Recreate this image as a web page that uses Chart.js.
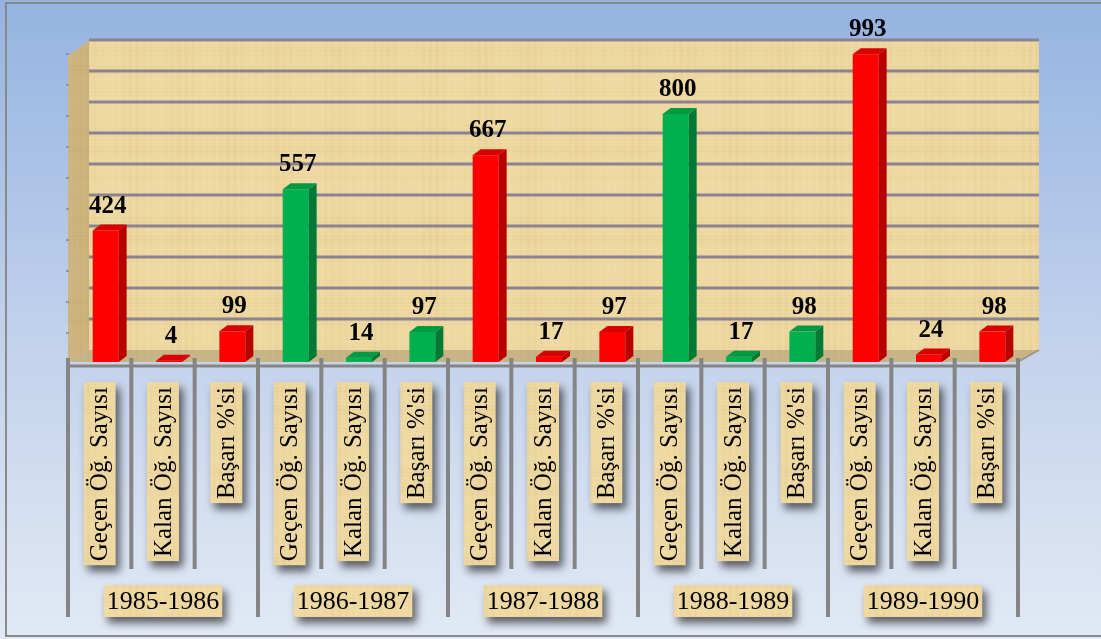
<!DOCTYPE html>
<html>
<head>
<meta charset="utf-8">
<script src="https://cdn.jsdelivr.net/npm/chart.js@4.4.0/dist/chart.umd.min.js"></script>
<style>
  html, body { margin: 0; padding: 0; background: #fff; }
</style>
</head>
<body>
<canvas id="chart" width="1101" height="639"></canvas>
<script>
var years = ['1985-1986', '1986-1987', '1987-1988', '1988-1989', '1989-1990'];
var measures = ['Geçen Öğ. Sayısı', 'Kalan Öğ. Sayısı', "Başarı %'si"];
var values = [424, 4, 99, 557, 14, 97, 667, 17, 97, 800, 17, 98, 993, 24, 98];
var yTicks = [0, 100, 200, 300, 400, 500, 600, 700, 800, 900, 1000];
var yearColors = ['red', 'green', 'red', 'green', 'red'];

var palette = {
  red:   { front: '#ff0000', side: '#b80000', top: '#d80000' },
  green: { front: '#00b04f', side: '#007a35', top: '#009a44' }
};

// build the 15 categories
var labels = [];
var colors = [];
years.forEach(function(yr, g) {
  measures.forEach(function(m) {
    labels.push(m);
    colors.push(yearColors[g]);
  });
});

var SHIFT = 6;      // bars sit a little right of their slot
var WALL_DX = 21, WALL_DY = 12;
var BAR_DX = 8, BAR_DY = 6;
var SERIF = '"Liberation Serif", "Times New Roman", serif';

// papyrus-like texture, deterministic
function makePaper() {
  var c = document.createElement('canvas');
  c.width = 300; c.height = 170;
  var p = c.getContext('2d');
  p.fillStyle = '#efd9a2';
  p.fillRect(0, 0, c.width, c.height);
  for (var y = 0; y < c.height; y++) {
    var a = 0.025 * Math.sin(y * 1.7) + 0.02 * Math.sin(y * 0.31 + 2) + 0.02 * Math.sin(y * 0.077);
    p.fillStyle = a > 0 ? 'rgba(255,248,220,' + a.toFixed(3) + ')' : 'rgba(170,130,60,' + (-a).toFixed(3) + ')';
    p.fillRect(0, y, c.width, 1);
  }
  for (var x = 0; x < c.width; x++) {
    var b = 0.025 * Math.sin(x * 0.9 + 1) + 0.02 * Math.sin(x * 0.13);
    p.fillStyle = b > 0 ? 'rgba(255,250,225,' + b.toFixed(3) + ')' : 'rgba(160,120,50,' + (-b).toFixed(3) + ')';
    p.fillRect(x, 0, 1, c.height);
  }
  return c;
}
var paper = makePaper();

var scenery = {
  id: 'scenery',
  beforeDraw: function(chart) {
    var ctx = chart.ctx;
    var W = chart.width, H = chart.height;
    var g = ctx.createLinearGradient(0, 0, 0, H);
    g.addColorStop(0, '#95b3e1');
    g.addColorStop(0.55, '#c3d3ec');
    g.addColorStop(1, '#e2e9f5');
    ctx.fillStyle = g;
    ctx.fillRect(0, 0, W, H);
    ctx.strokeStyle = '#8a8a8a';
    ctx.lineWidth = 2;
    ctx.strokeRect(6, 3, W + 10, 633);
  },
  beforeDatasetsDraw: function(chart) {
    var ctx = chart.ctx;
    var y = chart.scales.y;
    var L = chart.chartArea.left - SHIFT, R = chart.chartArea.right - SHIFT;
    var base = y.getPixelForValue(0), top = y.getPixelForValue(1000);
    var pat = ctx.createPattern(paper, 'repeat');

    // back wall
    ctx.fillStyle = pat;
    ctx.fillRect(L + WALL_DX, top - WALL_DY, R - L, base - top);

    // side wall
    ctx.beginPath();
    ctx.moveTo(L, top + 4);
    ctx.lineTo(L + WALL_DX, top - WALL_DY);
    ctx.lineTo(L + WALL_DX, base - WALL_DY);
    ctx.lineTo(L, base);
    ctx.closePath();
    ctx.fillStyle = pat;
    ctx.fill();
    ctx.fillStyle = 'rgba(120,90,40,0.28)';
    ctx.fill();

    // grid lines on the back wall
    ctx.strokeStyle = '#8b8490';
    yTicks.forEach(function(v) {
      if (v === 0) return;
      var py = y.getPixelForValue(v) - WALL_DY;
      ctx.lineWidth = 3;
      ctx.beginPath();
      ctx.moveTo(L + WALL_DX, py);
      ctx.lineTo(R + WALL_DX, py);
      ctx.stroke();
      // small tick on the side wall
      ctx.lineWidth = 1.5;
      ctx.beginPath();
      ctx.moveTo(L - 2, py + 14);
      ctx.lineTo(L + 1, py + 14);
      ctx.stroke();
    });

    // floor
    ctx.beginPath();
    ctx.moveTo(L, base);
    ctx.lineTo(L + WALL_DX, base - WALL_DY);
    ctx.lineTo(R + WALL_DX, base - WALL_DY);
    ctx.lineTo(R, base);
    ctx.closePath();
    ctx.fillStyle = pat;
    ctx.fill();
    ctx.fillStyle = 'rgba(110,95,70,0.3)';
    ctx.fill();
    ctx.strokeStyle = 'rgba(140,135,125,0.8)';
    ctx.lineWidth = 1.5;
    ctx.beginPath();
    ctx.moveTo(R, base);
    ctx.lineTo(R + WALL_DX, base - WALL_DY);
    ctx.stroke();
  },
  afterDatasetsDraw: function(chart) {
    var ctx = chart.ctx;
    var xs = chart.scales.x, y = chart.scales.y;
    var meta = chart.getDatasetMeta(0);
    var base = y.getPixelForValue(0);

    // 3d faces + value labels
    meta.data.forEach(function(bar, i) {
      var c = palette[colors[i]];
      var hw = bar.width / 2;
      var l = bar.x - hw, r = bar.x + hw, t = bar.y;
      ctx.fillStyle = c.side;
      ctx.beginPath();
      ctx.moveTo(r, t);
      ctx.lineTo(r + BAR_DX, t - BAR_DY);
      ctx.lineTo(r + BAR_DX, base - BAR_DY);
      ctx.lineTo(r, base);
      ctx.closePath();
      ctx.fill();
      ctx.fillStyle = c.top;
      ctx.beginPath();
      ctx.moveTo(l, t);
      ctx.lineTo(l + BAR_DX, t - BAR_DY);
      ctx.lineTo(r + BAR_DX, t - BAR_DY);
      ctx.lineTo(r, t);
      ctx.closePath();
      ctx.fill();

      ctx.fillStyle = '#000';
      ctx.font = 'bold 25px ' + SERIF;
      ctx.textAlign = 'center';
      ctx.textBaseline = 'alphabetic';
      ctx.fillText(String(values[i]), bar.x + 2, t - 18);
    });

    // axis frame: horizontal line and slot dividers
    var step = xs.getPixelForValue(1) - xs.getPixelForValue(0);
    var L = xs.getPixelForValue(0) - step / 2 - SHIFT;
    ctx.strokeStyle = '#858585';
    ctx.lineWidth = 3;
    ctx.beginPath();
    ctx.moveTo(L, base + 4);
    ctx.lineTo(L + step * labels.length, base + 4);
    ctx.stroke();
    ctx.lineWidth = 4;
    for (var k = 0; k <= labels.length; k++) {
      var dx = L + step * k;
      ctx.beginPath();
      ctx.moveTo(dx, base - 4);
      ctx.lineTo(dx, k % 3 === 0 ? 617 : 569);
      ctx.stroke();
    }

    var pat = ctx.createPattern(paper, 'repeat');

    // rotated category labels in paper boxes
    ctx.font = '25px ' + SERIF;
    labels.forEach(function(txt, i) {
      var cx = xs.getPixelForValue(i) - SHIFT;
      var tw = ctx.measureText(txt).width;
      var bh = tw + 9, bw = 32, by = 382;
      ctx.save();
      ctx.shadowColor = 'rgba(0,0,0,0.6)';
      ctx.shadowBlur = 8;
      ctx.shadowOffsetX = 4;
      ctx.shadowOffsetY = 6;
      ctx.fillStyle = pat;
      ctx.fillRect(cx - bw / 2, by, bw, bh);
      ctx.restore();
      ctx.save();
      ctx.translate(cx, by + bh);
      ctx.rotate(-Math.PI / 2);
      ctx.fillStyle = '#000';
      ctx.textAlign = 'left';
      ctx.textBaseline = 'middle';
      ctx.fillText(txt, 4, 1);
      ctx.restore();
    });

    // year labels
    ctx.font = '26px ' + SERIF;
    years.forEach(function(yr, g) {
      var cx = L + step * (g * 3 + 1.5);
      var tw = ctx.measureText(yr).width;
      var bw = tw + 6, bh = 32, by = 585;
      ctx.save();
      ctx.shadowColor = 'rgba(0,0,0,0.6)';
      ctx.shadowBlur = 8;
      ctx.shadowOffsetX = 4;
      ctx.shadowOffsetY = 6;
      ctx.fillStyle = pat;
      ctx.fillRect(cx - bw / 2, by, bw, bh);
      ctx.restore();
      ctx.fillStyle = '#000';
      ctx.textAlign = 'center';
      ctx.textBaseline = 'middle';
      ctx.fillText(yr, cx, by + bh / 2 + 1);
    });
  }
};

var ctx = document.getElementById('chart').getContext('2d');
var chart = new Chart(ctx, {
  type: 'bar',
  data: {
    labels: labels,
    datasets: [{
      data: values,
      backgroundColor: colors.map(function(c) { return palette[c].front; }),
      borderWidth: 0,
      barPercentage: 0.41,
      categoryPercentage: 1
    }]
  },
  options: {
    responsive: false,
    devicePixelRatio: 1,
    animation: false,
    layout: { padding: { left: 74, right: 77, top: 52, bottom: 277 } },
    plugins: { legend: { display: false }, tooltip: { enabled: false } },
    scales: {
      x: { display: false, offset: true },
      y: { display: false, min: 0, max: 1000, ticks: { stepSize: 100 } }
    }
  },
  plugins: [scenery]
});
</script>
</body>
</html>
